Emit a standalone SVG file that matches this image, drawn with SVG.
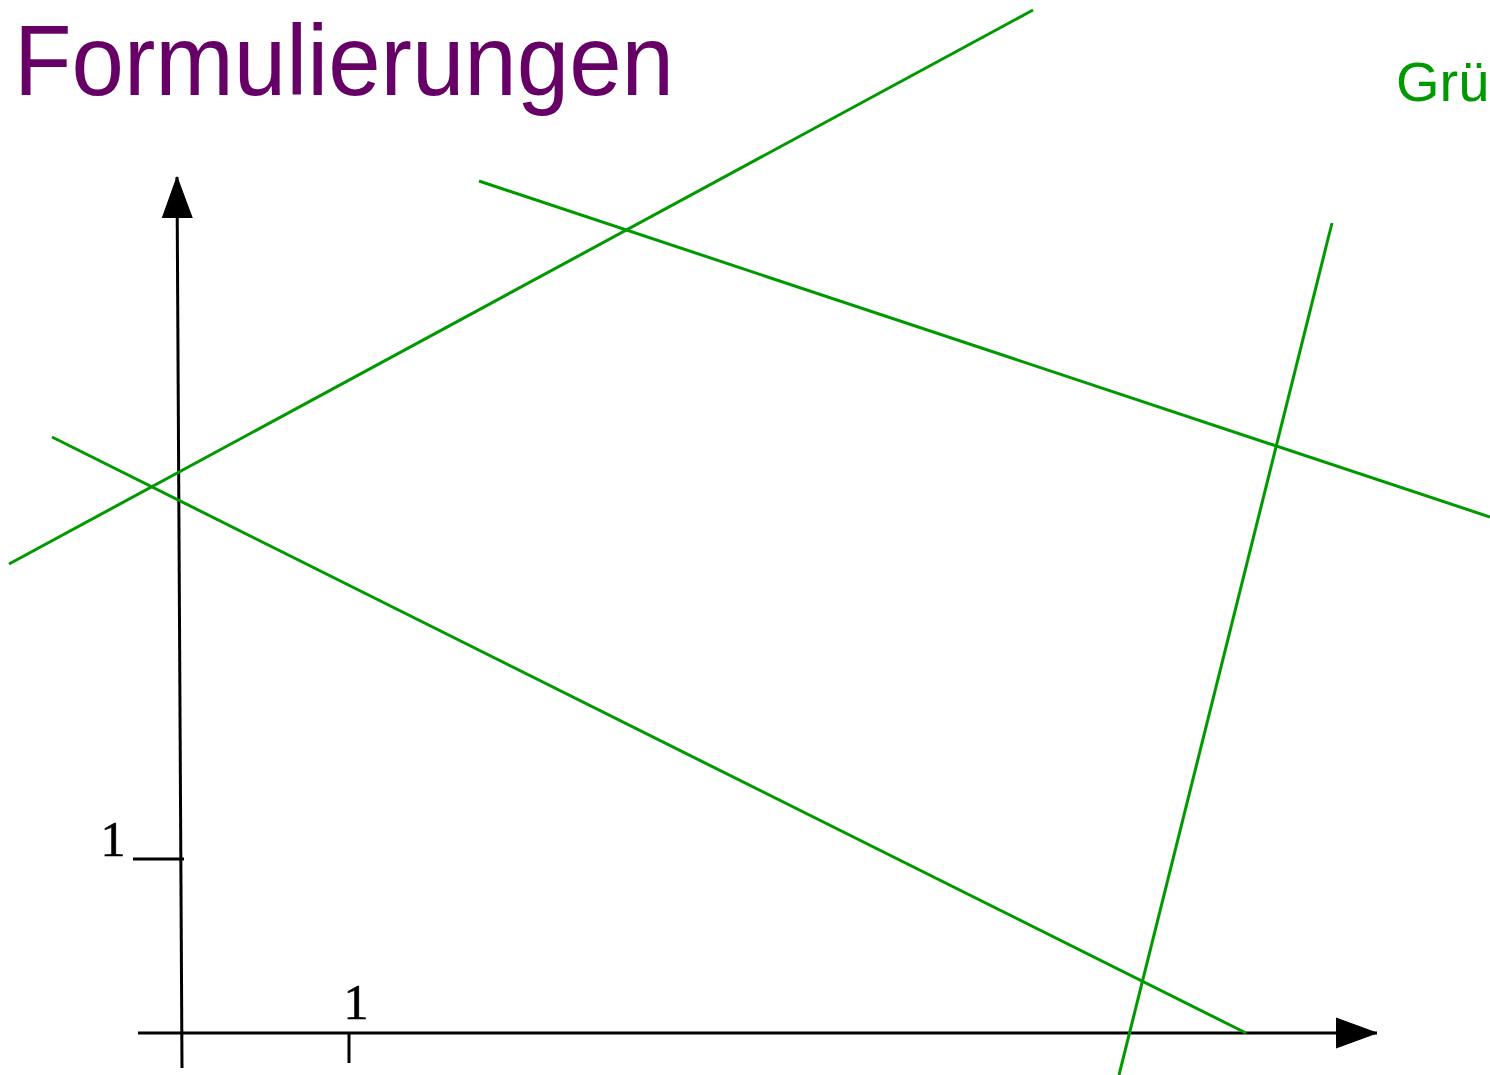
<svg xmlns="http://www.w3.org/2000/svg" width="1490" height="1075" viewBox="0 0 1490 1075">
<style>
.ax{stroke:#000;stroke-width:3;fill:none}
.gl{stroke:#009900;stroke-width:3;fill:none}
.lbl{font-family:"Liberation Serif","DejaVu Serif",serif;font-size:50px;fill:#000;stroke:#000;stroke-width:0.6;text-anchor:middle}
</style>
<defs>
<marker id="arr" markerUnits="userSpaceOnUse" markerWidth="42" markerHeight="32" viewBox="0 -16 42 32" refX="41" refY="0" orient="auto">
<path d="M0,-15 L41,0 L0,15 z" fill="#000" stroke="#000" stroke-width="1" stroke-linejoin="round"/>
</marker>
</defs>
<rect width="1490" height="1075" fill="#fff"/>
<g id="title">
<text x="14" y="95" font-family="Liberation Sans, Arial, sans-serif" font-size="100" fill="#660066" textLength="660" lengthAdjust="spacingAndGlyphs">Formulierungen</text>
</g>
<g id="subtitle">
<text x="1396" y="101" font-family="Liberation Sans, Arial, sans-serif" font-size="56" fill="#009900">Grü</text>
</g>
<g id="axes">
<line class="ax" x1="138" y1="1033" x2="1377" y2="1033" marker-end="url(#arr)"/>
<line class="ax" x1="182" y1="1068" x2="177" y2="177" marker-end="url(#arr)"/>
<line class="ax" x1="133" y1="859" x2="184" y2="859"/>
<line class="ax" x1="349" y1="1033" x2="349" y2="1063"/>
<text class="lbl" x="113" y="856">1</text>
<text class="lbl" x="356" y="1019">1</text>
</g>
<g id="connectors">
<line class="gl" x1="9" y1="564" x2="1033" y2="10"/>
<line class="gl" x1="479" y1="181" x2="1490" y2="517"/>
<line class="gl" x1="52" y1="437" x2="1246" y2="1033"/>
<line class="gl" x1="1332" y1="223" x2="1119" y2="1075"/>
</g>
</svg>
